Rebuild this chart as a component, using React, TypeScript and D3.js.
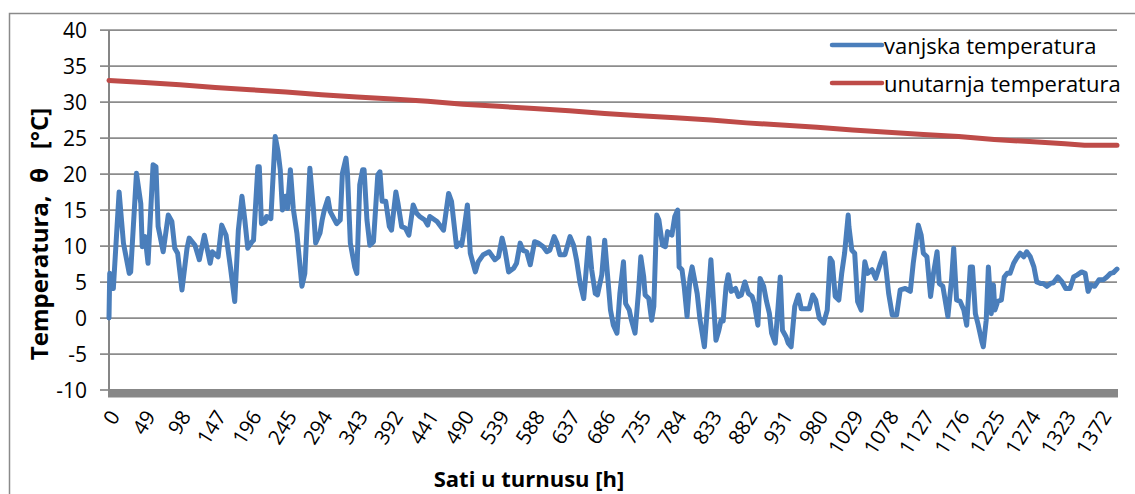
import React from "react";
import * as d3 from "d3";

const yTicks = [-10, -5, 0, 5, 10, 15, 20, 25, 30, 35, 40];
const xTickLabels = [0, 49, 98, 147, 196, 245, 294, 343, 392, 441, 490, 539, 588, 637, 686, 735, 784, 833, 882, 931, 980, 1029, 1078, 1127, 1176, 1225, 1274, 1323, 1372];
const lastHour = 1395;

const outdoorHours = [0,1,6,14,20,28,30,38,44,46,50,54,61,65,68,75,82,87,91,95,101,108,111,119,125,132,140,143,151,156,162,168,174,179,184,188,192,198,200,206,208,211,216,218,224,230,234,237,240,244,247,251,255,260,267,271,278,283,286,292,295,298,303,306,315,320,323,328,330,334,340,343,347,351,353,357,361,366,372,375,378,383,388,391,397,400,405,410,415,421,426,430,437,441,444,454,463,470,474,481,485,488,490,496,500,507,511,518,526,534,539,544,548,553,560,564,569,573,578,583,589,594,601,606,610,616,620,624,631,638,643,647,652,657,660,664,668,673,676,682,686,689,694,698,703,707,712,715,720,723,728,733,736,740,742,747,751,754,758,761,766,770,773,779,783,787,789,793,796,800,804,807,814,818,824,831,833,837,840,844,847,850,854,857,861,867,871,875,880,885,890,893,898,901,906,910,914,917,922,926,929,932,937,940,944,949,954,958,963,969,974,978,983,989,994,998,1001,1005,1010,1014,1018,1023,1024,1028,1032,1036,1041,1046,1050,1056,1061,1067,1073,1079,1084,1090,1095,1102,1109,1113,1120,1124,1127,1132,1137,1141,1146,1149,1154,1161,1166,1169,1173,1178,1183,1187,1192,1195,1199,1203,1208,1210,1214,1217,1221,1224,1226,1230,1235,1239,1243,1247,1252,1256,1261,1266,1270,1275,1280,1284,1289,1293,1298,1303,1307,1313,1319,1324,1330,1335,1340,1346,1351,1355,1359,1364,1370,1376,1381,1386,1390,1395];
const outdoorTemps = [0.0,6.2,4.1,17.5,10.4,6.2,6.4,20.1,15.9,9.9,11.3,7.6,21.3,21.0,12.7,9.2,14.3,13.4,9.7,9.0,3.9,9.7,11.1,10.1,8.1,11.5,7.6,9.2,8.5,12.9,11.5,7.1,2.3,12.2,16.9,13.6,9.7,10.6,10.8,21.0,21.0,13.1,13.4,14.1,13.8,25.2,23.1,20.6,15.0,16.9,15.2,20.6,15.2,11.8,4.4,6.2,20.8,15.0,10.4,11.8,13.6,15.0,16.6,14.8,13.1,13.6,20.1,22.2,20.1,10.4,7.1,6.2,18.5,20.6,20.6,13.6,10.1,10.6,19.9,20.3,16.2,16.2,12.7,12.2,17.5,15.9,12.7,12.5,11.5,15.7,14.5,14.1,13.6,12.9,14.1,13.4,12.2,17.3,16.2,9.9,10.4,10.1,11.3,15.7,9.0,6.4,7.8,8.8,9.2,8.1,8.5,11.1,9.4,6.4,6.9,7.6,10.4,9.4,9.2,7.4,10.6,10.4,9.9,9.2,9.4,11.3,10.4,8.8,8.8,11.3,10.1,8.1,4.8,2.7,6.2,11.1,6.7,3.4,3.2,6.0,10.8,7.1,1.1,-1.0,-2.1,3.4,7.8,2.0,1.1,-0.3,-2.1,3.9,8.5,5.7,3.2,2.7,-0.3,1.6,14.3,13.6,10.1,9.9,12.0,11.5,14.1,15.0,7.1,6.7,4.4,0.2,5.5,7.1,3.4,-0.3,-4.0,5.3,8.1,1.6,-3.1,-1.7,-0.3,-0.4,4.4,6.0,3.7,4.1,3.0,3.2,5.0,3.4,3.0,2.0,-1.0,5.5,4.4,2.3,0.6,-2.1,-3.5,1.6,5.7,-1.7,-2.6,-3.5,-4.0,1.6,3.2,1.3,1.3,1.3,3.2,2.5,0.0,-0.7,1.1,8.3,7.8,3.0,2.5,6.2,9.0,14.3,12.7,9.4,9.0,2.3,1.1,7.8,6.2,6.7,5.5,7.4,9.0,3.4,0.4,0.4,3.9,4.1,3.7,7.6,12.9,11.5,9.0,8.5,3.0,6.2,9.2,4.8,4.4,0.2,5.3,9.7,2.5,2.3,1.1,-1.0,7.1,7.1,0.6,-1.0,-3.3,-4.0,-0.3,7.1,0.6,4.6,1.1,2.3,2.5,5.7,6.2,6.2,7.6,8.3,9.0,8.5,9.2,8.5,7.1,5.0,4.8,4.8,4.4,4.8,4.9,5.7,5.0,4.1,4.1,5.7,6.0,6.4,6.2,3.7,4.6,4.4,5.3,5.3,5.7,6.2,6.3,6.8];

const indoorHours = [0,49,98,147,196,245,294,343,392,441,490,539,588,637,686,735,784,833,882,931,980,1029,1078,1127,1176,1225,1274,1323,1350,1372,1395];
const indoorTemps = [33.0,32.7,32.4,32.0,31.7,31.4,31.0,30.7,30.4,30.1,29.7,29.4,29.1,28.8,28.4,28.1,27.8,27.5,27.1,26.8,26.5,26.1,25.8,25.5,25.2,24.8,24.5,24.2,24.0,24.0,24.0];

const seriesNames = ["vanjska temperatura", "unutarnja temperatura"];
const seriesColors = ["#4a7ebb", "#be4b48"];

const W = 1135;
const H = 494;
const left = 109;
const right = 1117;
const top = 30;
const bottom = 390;
const FONT = "'Open Sans', sans-serif";

export default function App() {
  const x = d3.scaleLinear().domain([0, lastHour]).range([left, right]);
  const y = d3.scaleLinear().domain([-10, 40]).range([bottom, top]);

  const line = d3
    .line<[number, number]>()
    .x((d) => x(d[0]))
    .y((d) => y(d[1]));

  const outdoor: [number, number][] = outdoorHours.map((h, i) => [h, outdoorTemps[i]]);
  const indoor: [number, number][] = indoorHours.map((h, i) => [h, indoorTemps[i]]);

  return (
    <svg
      width={W}
      height={H}
      style={{ position: "absolute", left: 0, top: 0, background: "#fff" }}
      fontFamily={FONT}
    >
      <rect x={0} y={0} width={W} height={H} fill="#fff" />
      <rect x={9.5} y={13.5} width={1130} height={520} fill="none" stroke="#8a8a8a" strokeWidth={1.5} />

      {/* gridlines */}
      {yTicks.filter((t) => t > -10).map((t) => (
        <line key={"g" + t} x1={left - 9} x2={right} y1={y(t)} y2={y(t)} stroke="#8c8c8c" strokeWidth={1.75} />
      ))}
      <line x1={left - 9} x2={left} y1={y(-10)} y2={y(-10)} stroke="#8c8c8c" strokeWidth={1.75} />
      {/* y axis */}
      <line x1={left} x2={left} y1={top} y2={bottom + 7} stroke="#868686" strokeWidth={2} />
      {/* thick x axis bar */}
      <rect x={left - 1} y={y(-10) - 1} width={right - left + 2} height={8.5} fill="#878787" />

      {/* y tick labels */}
      {yTicks.map((t) => (
        <text key={"yl" + t} x={87} y={y(t)} textAnchor="end" dominantBaseline="central" fontSize={21} fill="#000">
          {t}
        </text>
      ))}

      {/* x tick labels */}
      {xTickLabels.map((t) => (
        <text
          key={"xl" + t}
          transform={`translate(${x(t) + 5},${412}) rotate(-58)`}
          textAnchor="end"
          dominantBaseline="central"
          fontSize={20.5}
          fill="#000"
        >
          {t}
        </text>
      ))}

      {/* series */}
      <path d={line(outdoor) || ""} fill="none" stroke={seriesColors[0]} strokeWidth={5} strokeLinejoin="round" strokeLinecap="round" />
      <path d={line(indoor) || ""} fill="none" stroke={seriesColors[1]} strokeWidth={5} strokeLinejoin="round" strokeLinecap="round" />

      {/* axis titles */}
      <text x={529} y={487} textAnchor="middle" fontSize={22} fontWeight="bold" fill="#000">
        Sati u turnusu [h]
      </text>
      <text
        transform={`translate(38,234) rotate(-90)`}
        textAnchor="middle"
        dominantBaseline="central"
        fontSize={24}
        fontWeight="bold"
        fill="#000"
        style={{ whiteSpace: "pre" }}
      >
        {"Temperatura,  θ   [°C]"}
      </text>

      {/* legend */}
      {seriesNames.map((n, i) => (
        <g key={n} transform={`translate(830,${45 + i * 38})`}>
          <line x1={2} x2={52} y1={0} y2={0} stroke={seriesColors[i]} strokeWidth={4.5} strokeLinecap="round" />
          <text x={54} y={0} dominantBaseline="central" fontSize={22} fill="#000">
            {n}
          </text>
        </g>
      ))}
    </svg>
  );
}
